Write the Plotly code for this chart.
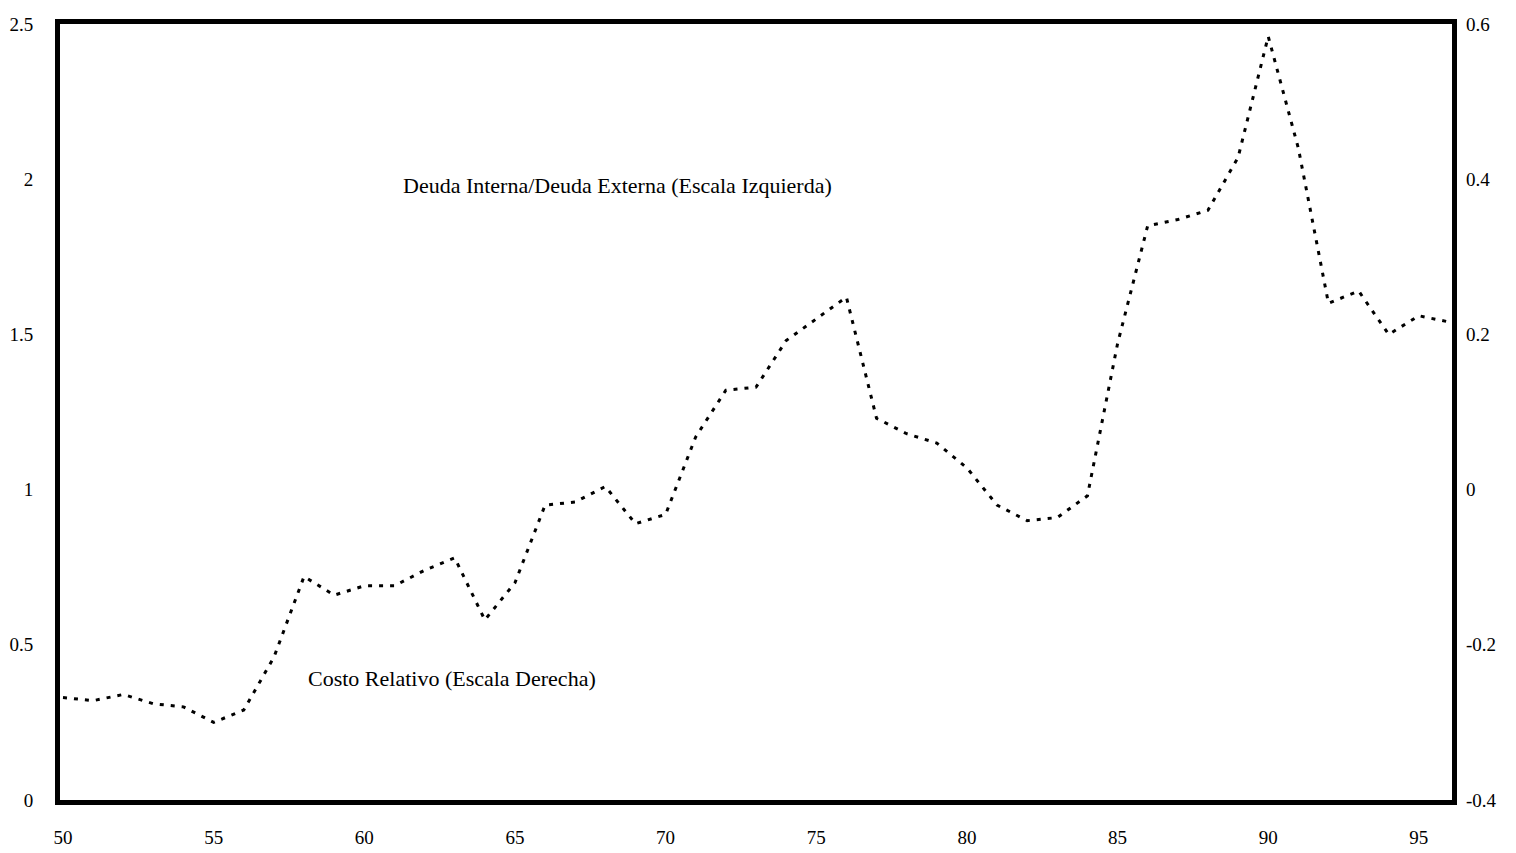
import plotly.graph_objects as go

# Años (1950-1996) y razón Deuda Interna/Deuda Externa (escala izquierda)
years = list(range(50, 97))
deuda_ratio = [0.33, 0.32, 0.34, 0.31, 0.30, 0.25, 0.29, 0.46, 0.72, 0.66,
               0.69, 0.69, 0.74, 0.78, 0.58, 0.70, 0.95, 0.96, 1.01, 0.89,
               0.92, 1.17, 1.32, 1.33, 1.48, 1.55, 1.62, 1.23, 1.18, 1.15,
               1.07, 0.95, 0.90, 0.91, 0.98, 1.47, 1.85, 1.87, 1.90, 2.07,
               2.46, 2.10, 1.60, 1.64, 1.50, 1.56, 1.54]

x_ticks = [50, 55, 60, 65, 70, 75, 80, 85, 90, 95]
left_ticks = [0, 0.5, 1, 1.5, 2, 2.5]
left_labels = ["0", "0.5", "1", "1.5", "2", "2.5"]
right_ticks = [-0.4, -0.2, 0, 0.2, 0.4, 0.6]
right_labels = ["-0.4", "-0.2", "0", "0.2", "0.4", "0.6"]

FONT = "Liberation Serif, Times New Roman, serif"

fig = go.Figure()

fig.add_trace(go.Scatter(
    x=years, y=deuda_ratio, mode="lines",
    line=dict(color="black", width=3, dash="4px,7px"),
    showlegend=False, hoverinfo="skip"
))

# empty trace so the right-hand scale is drawn
fig.add_trace(go.Scatter(x=[], y=[], yaxis="y2", showlegend=False))

fig.add_annotation(x=68.4, y=1.98, text="Deuda Interna/Deuda Externa (Escala Izquierda)",
                   showarrow=False, font=dict(family=FONT, size=22, color="black"))
fig.add_annotation(x=62.9, y=0.39, text="Costo Relativo (Escala Derecha)",
                   showarrow=False, font=dict(family=FONT, size=22, color="black"))

fig.update_layout(
    width=1516, height=853,
    margin=dict(l=52, r=72, t=16, b=61),
    plot_bgcolor="white", paper_bgcolor="white",
    font=dict(family=FONT, size=19, color="black"),
    xaxis=dict(range=[49.9, 96.1], tickvals=x_ticks, showgrid=False, zeroline=False,
               showline=True, linewidth=5, linecolor="black", mirror=True,
               ticks="", ticklabelstandoff=16, automargin=False),
    yaxis=dict(range=[0, 2.5], tickvals=left_ticks, ticktext=left_labels,
               showgrid=False, zeroline=False, showline=True, linewidth=5,
               linecolor="black", mirror=True, ticks="", ticklabelstandoff=18,
               automargin=False),
    yaxis2=dict(range=[-0.4, 0.6], tickvals=right_ticks, ticktext=right_labels,
                overlaying="y", side="right", showgrid=False, zeroline=False,
                showline=False, ticks="", ticklabelstandoff=13, automargin=False),
)

fig.write_html("out.html")
